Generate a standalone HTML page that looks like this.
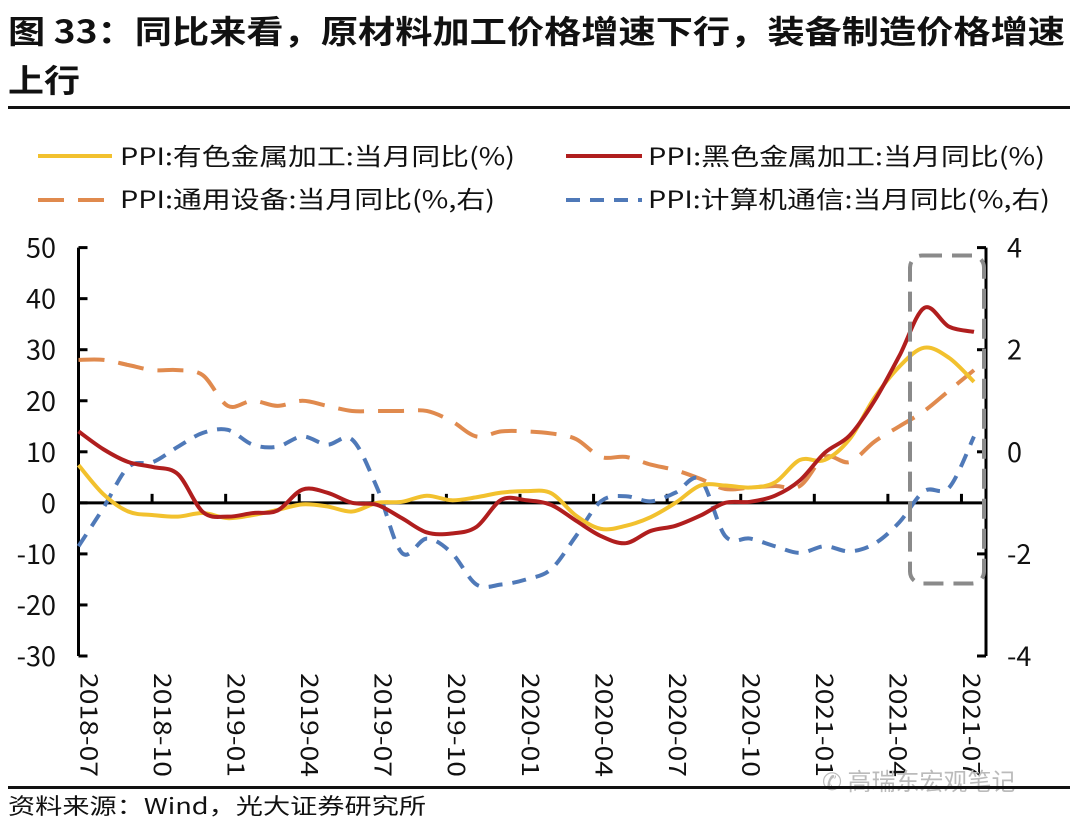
<!DOCTYPE html>
<html><head><meta charset="utf-8">
<style>
html,body{margin:0;padding:0;background:#fff;}
svg{display:block;}
text{font-family:"Liberation Sans","Noto Sans CJK SC",sans-serif;}
.cjk{font-family:"Noto Sans CJK SC","Liberation Sans",sans-serif;}
</style></head>
<body>
<svg id="chart" width="1070" height="828" viewBox="0 0 1070 828" xmlns="http://www.w3.org/2000/svg">
  <text class="cjk" x="8" y="43" font-size="32" font-weight="bold" fill="#111" textLength="1057" lengthAdjust="spacingAndGlyphs">图 33：同比来看，原材料加工价格增速下行，装备制造价格增速</text>
  <text class="cjk" x="8" y="92" font-size="32" font-weight="bold" fill="#111" textLength="72" lengthAdjust="spacingAndGlyphs">上行</text>
  <rect x="8" y="106" width="1062" height="3" fill="#111"/>

  <g>
    <g>
      <line x1="38" y1="156" x2="112" y2="156" stroke="#F2C12E" stroke-width="4"/>
      <text class="cjk" x="120" y="165" font-size="24" fill="#111" textLength="395" lengthAdjust="spacingAndGlyphs">PPI:有色金属加工:当月同比(%)</text>
    </g>
    <g>
      <line x1="566" y1="156" x2="642" y2="156" stroke="#B01E1E" stroke-width="4"/>
      <text class="cjk" x="648" y="165" font-size="24" fill="#111" textLength="397" lengthAdjust="spacingAndGlyphs">PPI:黑色金属加工:当月同比(%)</text>
    </g>
    <g>
      <line x1="38" y1="200" x2="112" y2="200" stroke="#E08A4E" stroke-width="4" stroke-dasharray="26,14"/>
      <text class="cjk" x="120" y="208" font-size="24" fill="#111" textLength="375" lengthAdjust="spacingAndGlyphs">PPI:通用设备:当月同比(%,右)</text>
    </g>
    <g>
      <line x1="566" y1="200" x2="642" y2="200" stroke="#4F79B8" stroke-width="4" stroke-dasharray="14,10"/>
      <text class="cjk" x="648" y="208" font-size="24" fill="#111" textLength="402" lengthAdjust="spacingAndGlyphs">PPI:计算机通信:当月同比(%,右)</text>
    </g>
  </g>

  <g id="plot"></g>

  <text class="cjk" x="822" y="790" font-size="24" fill="#bbb">✆ 高瑞东宏观笔记</text>
  <rect x="8" y="786" width="1062" height="3" fill="#111"/>
  <text class="cjk" x="8" y="814" font-size="22" fill="#111" textLength="418" lengthAdjust="spacingAndGlyphs">资料来源：Wind，光大证券研究所</text>
</svg>
<script>
const months = ["2018-07","2018-08","2018-09","2018-10","2018-11","2018-12","2019-01","2019-02","2019-03","2019-04","2019-05","2019-06","2019-07","2019-08","2019-09","2019-10","2019-11","2019-12","2020-01","2020-02","2020-03","2020-04","2020-05","2020-06","2020-07","2020-08","2020-09","2020-10","2020-11","2020-12","2021-01","2021-02","2021-03","2021-04","2021-05","2021-06","2021-07"];
const nonferrous = [7.4,1.7,-1.7,-2.4,-2.7,-2,-3,-2.4,-1.4,-0.3,-0.7,-1.7,0,0.2,1.4,0.5,1.1,2,2.3,1.9,-2.5,-5.1,-4.5,-2.8,0,3.4,3.4,3,4,8.4,8.4,12.5,20.6,26.7,30.4,28.4,23.7];
const ferrous = [14,10.5,8,7,5.6,-1.8,-2.7,-2,-1.5,2.6,2,0,-0.4,-3,-5.8,-6,-4.7,0.6,0.5,-0.4,-3.5,-6.5,-7.9,-5.5,-4.5,-2.5,0,0.2,1.4,4.4,9.8,13.2,20,28.8,38.2,34.5,33.5];
const generalEquip = [1.8,1.8,1.7,1.6,1.6,1.5,0.9,1.0,0.9,1.0,0.9,0.8,0.8,0.8,0.8,0.6,0.3,0.4,0.4,0.36,0.25,-0.1,-0.1,-0.25,-0.36,-0.53,-0.73,-0.7,-0.67,-0.67,-0.1,-0.2,0.2,0.5,0.8,1.2,1.6];
const computerComm = [-1.85,-1.1,-0.3,-0.2,0.1,0.37,0.43,0.14,0.1,0.3,0.14,0.24,-0.7,-1.98,-1.7,-1.98,-2.6,-2.6,-2.5,-2.3,-1.65,-0.97,-0.87,-0.97,-0.8,-0.54,-1.65,-1.7,-1.85,-1.98,-1.85,-1.95,-1.8,-1.38,-0.77,-0.7,0.3];
const leftTicks = [50,40,30,20,10,0,-10,-20,-30];
const rightTicks = [4,2,0,-2,-4];
const xLabelIdx = [0,3,6,9,12,15,18,21,24,27,30,33,36];

const NS = "http://www.w3.org/2000/svg";
const plot = document.getElementById('plot');
const X0 = 78.5, X1 = 986, XLAST = 974, YT = 247.6, YB = 656;
const xLine = i => X0 + i * (XLAST - X0) / (months.length - 1);
const xCat = i => X0 + (i + 0.5) * (X1 - X0) / months.length;
const yL = v => YB - (v - (-30)) * (YB - YT) / 80;
const yR = v => YB - (v - (-4)) * (YB - YT) / 8;
function mk(tag, attrs) { const e = document.createElementNS(NS, tag); for (const k in attrs) e.setAttribute(k, attrs[k]); plot.appendChild(e); return e; }

let a = mk('line', {x1:X0, y1:YT, x2:X0, y2:YB, stroke:'#000', 'stroke-width':3});


a = mk('line', {x1:X1, y1:YT, x2:X1, y2:YB, stroke:'#000', 'stroke-width':3});


a = mk('line', {x1:X0, y1:yL(0), x2:X1, y2:yL(0), stroke:'#000', 'stroke-width':3});



leftTicks.forEach(v => {
  const t = mk('line', {x1:X0, y1:yL(v), x2:X0+9, y2:yL(v), stroke:'#000', 'stroke-width':3});
  
  
  const l = mk('text', {x:56, y:yL(v)+10, 'font-size':27, 'text-anchor':'end', fill:'#111', class:'cjk'});
  
  
  l.textContent = v;
});
rightTicks.forEach(v => {
  const t = mk('line', {x1:X1-9, y1:yR(v), x2:X1, y2:yR(v), stroke:'#000', 'stroke-width':3});
  
  
  const l = mk('text', {x:1007, y:yR(v)+10, 'font-size':27, 'text-anchor':'start', fill:'#111', class:'cjk'});
  
  
  l.textContent = v;
});
for (let k = 1; k <= 12; k++) {
  const tx = X0 + k * 3 * (X1 - X0) / months.length;
  const t = mk('line', {x1:tx, y1:yL(0), x2:tx, y2:yL(0)-9, stroke:'#000', 'stroke-width':3});
  
  
}
xLabelIdx.forEach(i => {
  const cx = xCat(i), ty = 673;
  const l = mk('text', {x:0, y:0, 'font-size':24, fill:'#111', class:'cjk', 'dominant-baseline':'central', transform:`translate(${cx},${ty}) rotate(90)`, textLength:104, lengthAdjust:'spacingAndGlyphs'});
  
  
  l.textContent = months[i];
});

function smoothPath(pts) {
  let d = `M${pts[0][0]},${pts[0][1]}`;
  for (let i = 0; i < pts.length - 1; i++) {
    const p0 = pts[Math.max(0,i-1)], p1 = pts[i], p2 = pts[i+1], p3 = pts[Math.min(pts.length-1,i+2)];
    const c1x = p1[0] + (p2[0]-p0[0])/6, c1y = p1[1] + (p2[1]-p0[1])/6;
    const c2x = p2[0] - (p3[0]-p1[0])/6, c2y = p2[1] - (p3[1]-p1[1])/6;
    d += ` C${c1x},${c1y} ${c2x},${c2y} ${p2[0]},${p2[1]}`;
  }
  return d;
}
function series(vals, yf, color, dash, name) {
  const p = mk('path', {d: smoothPath(vals.map((v,i)=>[xLine(i), yf(v)])), fill:'none', stroke:color, 'stroke-width':4, 'stroke-linejoin':'round'});
  if (dash) p.setAttribute('stroke-dasharray', dash);
  
  
}
series(generalEquip, yR, '#E08A4E', '26,14', 'line-general-equipment');
series(computerComm, yR, '#4F79B8', '14,10', 'line-computer-comm');
series(nonferrous, yL, '#F2C12E', null, 'line-nonferrous');
series(ferrous, yL, '#B01E1E', null, 'line-ferrous');

const box = mk('rect', {x:910, y:255.5, width:74, height:328, rx:12, fill:'none', stroke:'#8a8a8a', 'stroke-width':4, 'stroke-dasharray':'20,10'});


</script>
</body></html>
